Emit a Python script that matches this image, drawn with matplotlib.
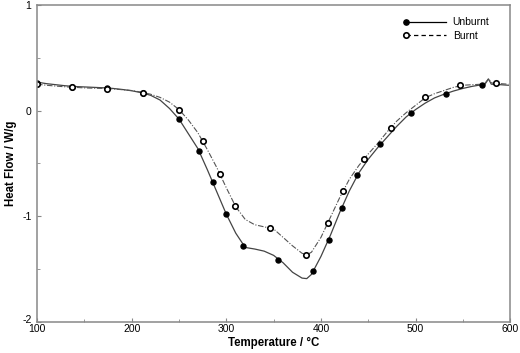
import numpy as np
import matplotlib
matplotlib.use("Agg")
import matplotlib.pyplot as plt
import matplotlib.transforms as mtransforms
from matplotlib.legend_handler import HandlerLine2D

plt.rcParams['font.family'] = ['Liberation Sans', 'DejaVu Sans']

# curves (temperature in degC, heat flow in W/g)
t_unburnt = [100, 110, 120, 130, 140, 150, 160, 170, 180, 190, 200, 210, 220, 230, 240,
             250, 260, 270, 280, 290, 300, 310, 320, 330, 340, 350, 360, 370, 380, 385,
             390, 400, 410, 420, 430, 440, 450, 460, 470, 480, 490, 500, 510, 520, 530,
             540, 550, 560, 570, 573, 577, 580, 590, 598]
hf_unburnt = [0.27, 0.255, 0.245, 0.235, 0.228, 0.224, 0.220, 0.216, 0.210, 0.200, 0.188,
              0.170, 0.145, 0.100, 0.020, -0.08, -0.22, -0.36, -0.56, -0.77, -0.98, -1.16,
              -1.295, -1.31, -1.33, -1.37, -1.44, -1.53, -1.585, -1.59, -1.55, -1.38, -1.18,
              -0.96, -0.76, -0.59, -0.46, -0.35, -0.25, -0.15, -0.06, 0.01, 0.07, 0.12,
              0.155, 0.185, 0.21, 0.23, 0.245, 0.245, 0.30, 0.25, 0.245, 0.24]

t_burnt = [100, 110, 120, 130, 140, 150, 160, 170, 180, 190, 200, 210, 220, 230, 240,
           250, 260, 270, 280, 290, 300, 310, 320, 330, 340, 350, 360, 370, 380, 385,
           390, 400, 410, 420, 430, 440, 450, 460, 470, 480, 490, 500, 510, 520, 530,
           540, 550, 560, 570, 573, 577, 581, 590, 598]
hf_burnt = [0.25, 0.24, 0.232, 0.225, 0.22, 0.215, 0.212, 0.21, 0.205, 0.198, 0.19,
            0.175, 0.155, 0.125, 0.08, 0.01, -0.09, -0.21, -0.37, -0.54, -0.73, -0.91,
            -1.03, -1.08, -1.10, -1.12, -1.20, -1.28, -1.35, -1.365, -1.34, -1.20, -1.01,
            -0.82, -0.65, -0.52, -0.41, -0.31, -0.20, -0.10, -0.02, 0.05, 0.12, 0.16,
            0.19, 0.22, 0.24, 0.245, 0.25, 0.255, 0.30, 0.26, 0.255, 0.25]

# marker positions
mt_unburnt = [100, 137, 174, 212, 250, 271.5, 285.6, 300, 317.4, 354.4, 392, 408, 422,
              438.6, 462.6, 495, 532, 570]
mhf_unburnt = [0.265, 0.227, 0.214, 0.167, -0.08, -0.385, -0.68, -0.98, -1.28, -1.41,
               -1.52, -1.22, -0.92, -0.61, -0.32, -0.02, 0.16, 0.245]

mt_burnt = [100, 137, 174, 212, 250, 275.5, 293.4, 309.3, 346.3, 384, 407, 423, 445.7,
            473.5, 509.8, 546.8, 584.5]
mhf_burnt = [0.25, 0.22, 0.205, 0.165, 0.006, -0.29, -0.60, -0.90, -1.107, -1.365,
             -1.063, -0.76, -0.46, -0.16, 0.125, 0.24, 0.26]


class LeftMarker(HandlerLine2D):
    # put the legend marker at the left end of the sample line
    def create_artists(self, *args, **kwargs):
        arts = super().create_artists(*args, **kwargs)
        arts[0].set_markevery([0])
        return arts


fig = plt.figure(figsize=(5.2, 3.53), dpi=100)
ax = fig.add_axes([0.0712, 0.088, 0.91, 0.898])

ax.plot(t_unburnt, hf_unburnt, color='#444444', lw=0.9)
ax.plot(t_burnt, hf_burnt, color='#555555', lw=0.8, ls=(0, (5, 1.5, 1, 1.5)))
ax.plot(mt_unburnt, mhf_unburnt, 'o', ls='none', color='black', ms=3.6)
ax.plot(mt_burnt, mhf_burnt, 'o', ls='none', mfc='white', mec='black', mew=1.2, ms=3.9)

# legend entries
h1, = ax.plot([], [], color='black', lw=0.9, marker='o', ms=3.8)
h2, = ax.plot([], [], color='black', lw=0.9, ls=(0, (3.5, 2.5)), marker='o',
              mfc='white', mec='black', mew=1.2, ms=3.9)
ax.legend([h1, h2], ['Unburnt', 'Burnt'], loc='upper right', frameon=False,
          fontsize=7.5, handlelength=3.9, handletextpad=0.6, labelspacing=0.3,
          bbox_to_anchor=(0.976, 0.99),
          handler_map={h1: LeftMarker(), h2: LeftMarker()})

ax.set_xlim(100, 600)
ax.set_ylim(-2, 1)
ax.set_xticks([100, 200, 300, 400, 500, 600])
ax.set_xticks([150, 250, 350, 450, 550], minor=True)
ax.set_yticks([-2, -1, 0, 1])
ax.set_yticks([-1.5, -0.5, 0.5], minor=True)
ax.set_yticklabels(['-2', '-1', '0', '1'])

for s in ax.spines.values():
    s.set_color('#888888')
    s.set_linewidth(1.1)
ax.tick_params(which='both', direction='in', color='#888888', labelsize=7.5)
ax.tick_params(axis='x', pad=1.5)
ax.tick_params(axis='y', pad=4)
ax.tick_params(which='major', length=3)
ax.tick_params(which='minor', length=2)

# nudge the bottom y label up a little so it clears "100"
lab = ax.get_yticklabels()[0]
lab.set_transform(lab.get_transform() + mtransforms.ScaledTranslation(0, 2 / 72, fig.dpi_scale_trans))

ax.set_xlabel('Temperature / °C', fontsize=8.3, fontweight='bold', labelpad=2)
ax.set_ylabel('Heat Flow / W/g', fontsize=8.3, fontweight='bold', labelpad=3.5)

fig.savefig('out.png', dpi=100)
